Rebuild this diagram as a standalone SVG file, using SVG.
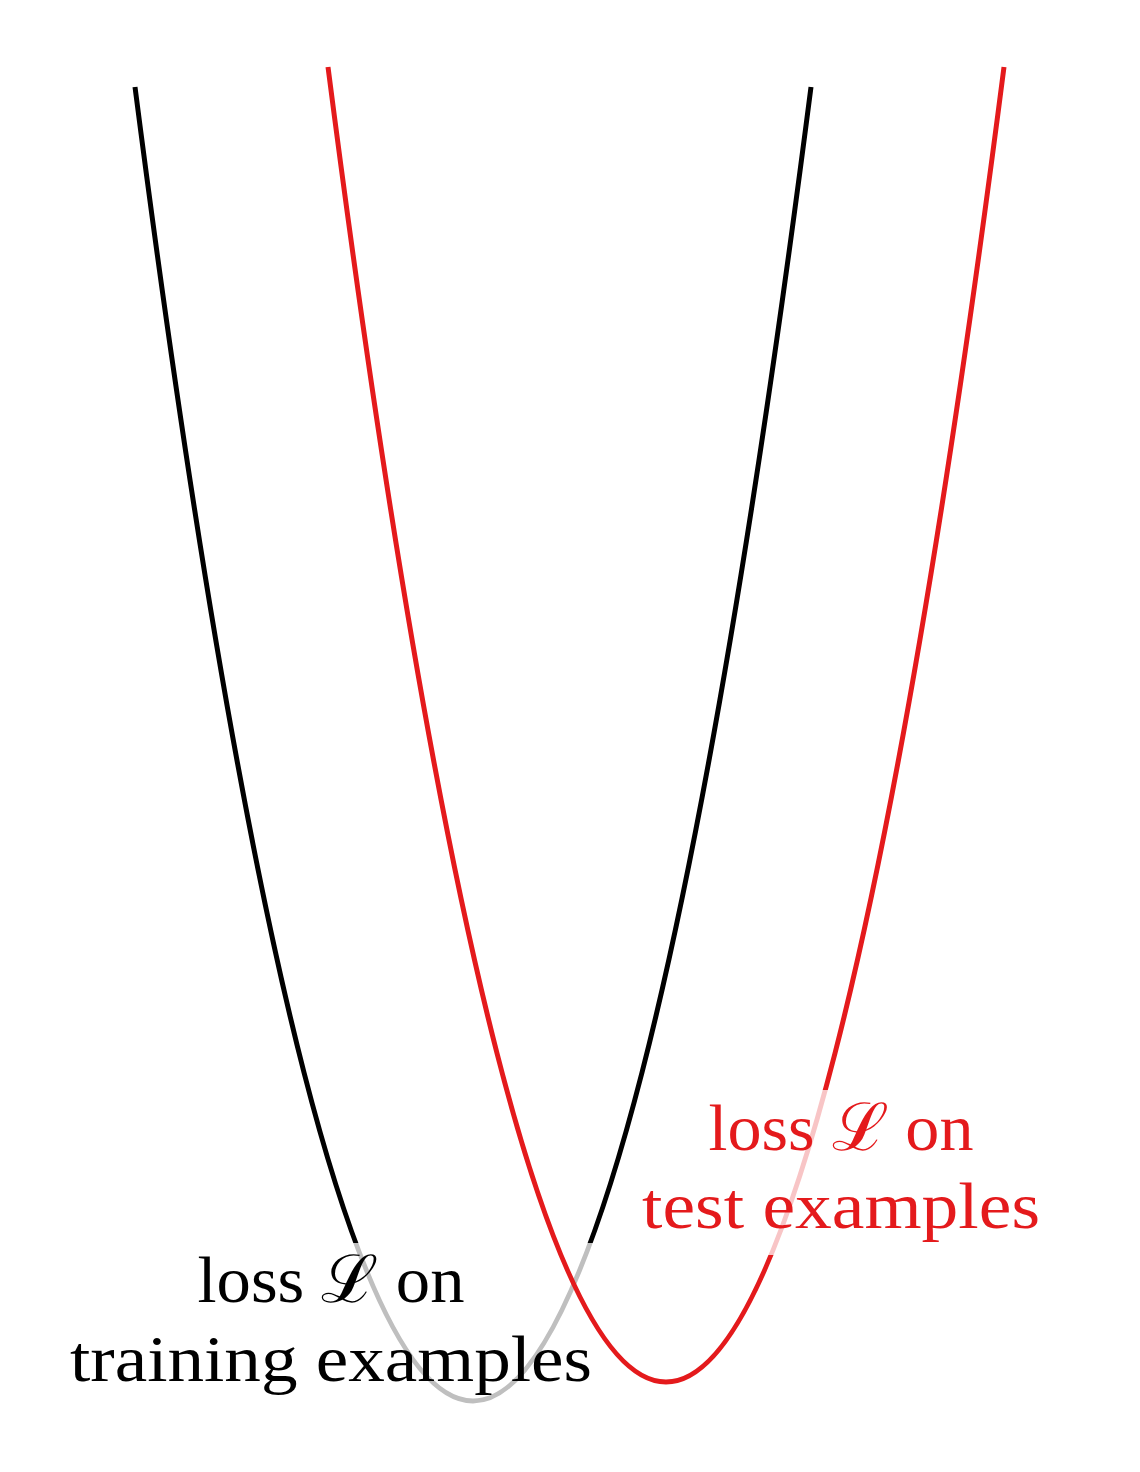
<svg xmlns="http://www.w3.org/2000/svg" width="1140" height="1472" viewBox="0 0 1140 1472">
<style>
.curve{fill:none;stroke-width:5;stroke-linecap:butt}
.veil{fill:#fff;fill-opacity:0.75}
.lbl{font-family:"Liberation Serif","DejaVu Serif",serif;font-size:66px;text-anchor:middle}
.L{font-family:"DejaVu Serif","Liberation Serif",serif}
</style>
<rect width="1140" height="1472" fill="#fff"/>
<g id="connectors">
<path id="train-curve" class="curve" stroke="#000" d="M135,87 Q473,2715 811,87"/>
</g>
<g id="train-label">
<rect class="veil" x="55" y="1243" width="550" height="170"/>
<text class="lbl" x="331" y="1302" textLength="267" lengthAdjust="spacingAndGlyphs">loss <tspan class="L">ℒ</tspan> on</text>
<text class="lbl" x="331" y="1381" textLength="522" lengthAdjust="spacingAndGlyphs">training examples</text>
</g>
<g id="test-curve-g">
<path id="test-curve" class="curve" stroke="#e41a1c" d="M328,67 Q666,2697 1004,67"/>
</g>
<g id="test-label">
<rect class="veil" x="646" y="1090" width="404" height="165"/>
<text class="lbl" x="841" y="1150" fill="#e41a1c" textLength="265" lengthAdjust="spacingAndGlyphs">loss <tspan class="L">ℒ</tspan> on</text>
<text class="lbl" x="841" y="1228" fill="#e41a1c" textLength="398" lengthAdjust="spacingAndGlyphs">test examples</text>
</g>
</svg>
